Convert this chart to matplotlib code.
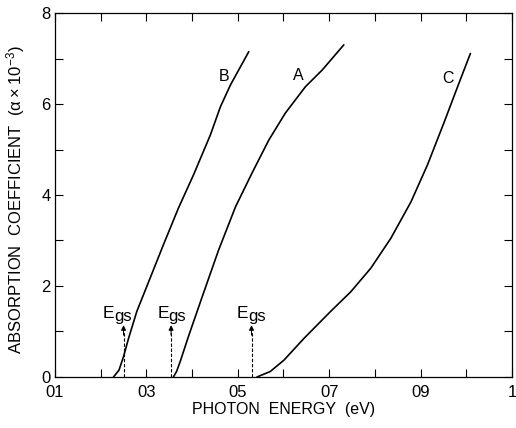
import matplotlib
matplotlib.use("Agg")
import matplotlib.pyplot as plt
from matplotlib.ticker import MultipleLocator, FixedLocator, FixedFormatter

plt.rcParams['font.family'] = ['Liberation Sans', 'DejaVu Sans']
plt.rcParams['mathtext.fontset'] = 'custom'
plt.rcParams['mathtext.rm'] = 'Liberation Sans'

# Absorption curves (photon energy in eV, alpha x 1e-3)
b_energy = [0.228, 0.240, 0.250, 0.261, 0.279, 0.308, 0.337, 0.370, 0.403, 0.440, 0.462, 0.484, 0.524]
b_alpha = [0.0, 0.15, 0.45, 0.85, 1.44, 2.17, 2.90, 3.71, 4.44, 5.32, 5.94, 6.42, 7.15]

a_energy = [0.359, 0.366, 0.374, 0.392, 0.422, 0.458, 0.495, 0.531, 0.568, 0.604, 0.648, 0.685, 0.732]
a_alpha = [0.0, 0.12, 0.34, 0.89, 1.76, 2.79, 3.74, 4.48, 5.21, 5.80, 6.38, 6.75, 7.30]

c_energy = [0.542, 0.571, 0.601, 0.645, 0.703, 0.747, 0.791, 0.835, 0.879, 0.915, 0.952, 0.981, 1.009]
c_alpha = [0.0, 0.12, 0.37, 0.85, 1.44, 1.87, 2.39, 3.05, 3.85, 4.66, 5.61, 6.38, 7.11]

curve_labels = ['B', 'A', 'C']
label_pos = [(0.469, 6.60), (0.633, 6.62), (0.960, 6.57)]

# Optical gap markers
egs_energy = [0.250, 0.354, 0.530]
egs_text_x = [0.238, 0.357, 0.530]
egs_arrow_top = 1.14
egs_text_y = 1.30

xtick_vals = [0.1, 0.3, 0.5, 0.7, 0.9, 1.1]
xtick_labels = ['01', '03', '05', '07', '09', '1']
ytick_vals = [0, 2, 4, 6, 8]

fig = plt.figure(figsize=(5.16, 4.28), dpi=100)
ax = fig.add_axes([0.1066, 0.1192, 0.8856, 0.8504])

for xs, ys in [(b_energy, b_alpha), (a_energy, a_alpha), (c_energy, c_alpha)]:
    ax.plot(xs, ys, color='black', lw=1.2, solid_joinstyle='round',
            solid_capstyle='round')

for name, (lx, ly) in zip(curve_labels, label_pos):
    ax.text(lx, ly, name, fontsize=11.5, ha='center', va='center')

for ex, tx in zip(egs_energy, egs_text_x):
    ax.plot([ex, ex], [0, egs_arrow_top - 0.12], color='black', lw=0.8,
            ls=(0, (3, 1.6)))
    ax.annotate('', xy=(ex, egs_arrow_top), xytext=(ex, egs_arrow_top - 0.22),
                arrowprops=dict(arrowstyle='-|>', color='black', lw=0.8,
                                mutation_scale=7, shrinkA=0, shrinkB=0))
    ax.annotate('E', xy=(tx, egs_text_y), xytext=(-2.7, 0),
                textcoords='offset points', fontsize=12.5,
                ha='right', va='baseline')
    ax.annotate('gs', xy=(tx, egs_text_y), xytext=(-2.7, -2.2),
                textcoords='offset points', fontsize=12,
                ha='left', va='baseline')

ax.set_xlim(0.1, 1.1)
ax.set_ylim(0, 8)
ax.xaxis.set_major_locator(FixedLocator(xtick_vals))
ax.xaxis.set_major_formatter(FixedFormatter(xtick_labels))
ax.xaxis.set_minor_locator(MultipleLocator(0.1))
ax.yaxis.set_major_locator(FixedLocator(ytick_vals))
ax.yaxis.set_minor_locator(MultipleLocator(1))
ax.tick_params(which='both', direction='in', top=True, right=True,
               length=5.5, width=0.8, labelsize=12)
ax.tick_params(axis='x', pad=6)
ax.tick_params(axis='y', pad=3)
for s in ax.spines.values():
    s.set_linewidth(0.9)

ax.set_xlabel('PHOTON  ENERGY  (eV)', fontsize=11.5, labelpad=1)
ax.set_ylabel(r'ABSORPTION  COEFFICIENT  ($\mathregular{\alpha \times 10^{-3}}$)',
              fontsize=12)
ax.yaxis.set_label_coords(-0.062, 0.486)

fig.savefig('out.png', dpi=100)
